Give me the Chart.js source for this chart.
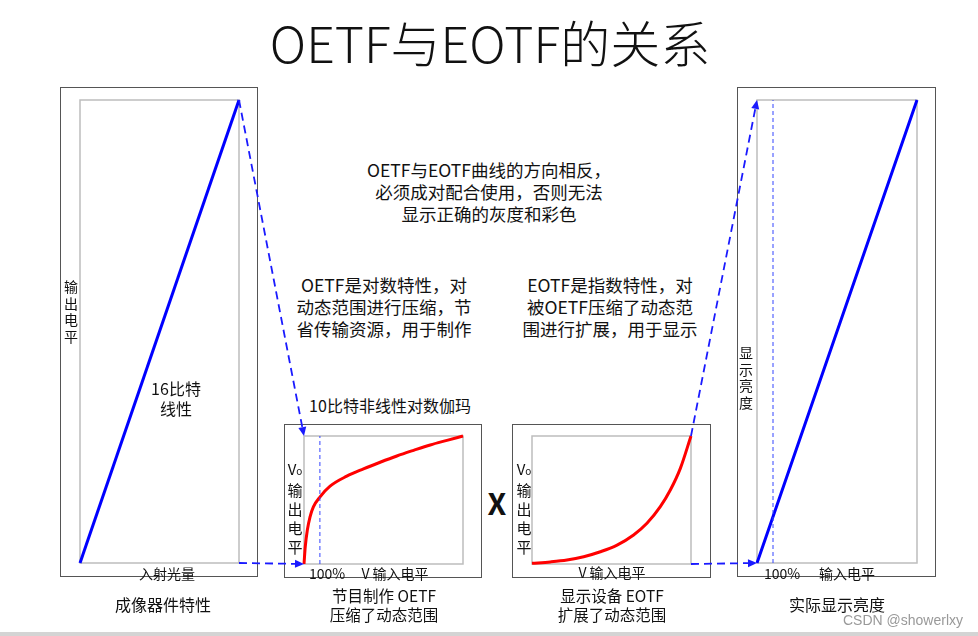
<!DOCTYPE html>
<html>
<head>
<meta charset="utf-8">
<script src="https://cdn.jsdelivr.net/npm/chart.js@4.4.1/dist/chart.umd.min.js"></script>
<style>
  body { margin: 0; background: #fff; }
  #page { position: relative; width: 978px; height: 636px; overflow: hidden;
          font-family: "Noto Sans CJK SC", "Noto Sans", sans-serif; color: #111; }
  .box { position: absolute; border: 1.5px solid #555; box-sizing: border-box; }
  .box canvas { position: absolute; left: -1.5px; top: -1.5px; }
  .t { position: absolute; transform: translate(-50%, -50%); white-space: nowrap; text-align: center; }
  .v { position: absolute; transform: translate(-50%, -50%); text-align: center; width: 1.2em; }
  #overlay { position: absolute; left: 0; top: 0; pointer-events: none; }
</style>
</head>
<body>
<div id="page">
  <div class="t" style="left:490px;top:41px;font-size:50px;font-weight:300;">OETF与EOTF的关系</div>

  <div class="t" style="left:489px;top:192px;font-size:17.5px;line-height:22px;">OETF与EOTF曲线的方向相反，<br>必须成对配合使用，否则无法<br>显示正确的灰度和彩色</div>
  <div class="t" style="left:384px;top:307px;font-size:17.5px;line-height:22px;">OETF是对数特性，对<br>动态范围进行压缩，节<br>省传输资源，用于制作</div>
  <div class="t" style="left:610px;top:307px;font-size:17.5px;line-height:22px;">EOTF是指数特性，对<br>被OETF压缩了动态范<br>围进行扩展，用于显示</div>

  <div class="box" id="b1" style="left:60px;top:87px;width:198px;height:490px;"><canvas id="c1"></canvas></div>
  <div class="box" id="b2" style="left:284px;top:424px;width:198px;height:154px;"><canvas id="c2"></canvas></div>
  <div class="box" id="b3" style="left:512px;top:424px;width:199px;height:154px;"><canvas id="c3"></canvas></div>
  <div class="box" id="b4" style="left:737px;top:87px;width:199px;height:490px;"><canvas id="c4"></canvas></div>

  <!-- panel 1 labels -->
  <div class="v" style="left:71px;top:311px;font-size:14px;line-height:16.5px;">输<br>出<br>电<br>平</div>
  <div class="t" style="left:176px;top:398px;font-size:16px;line-height:20px;">16比特<br>线性</div>
  <div class="t" style="left:167px;top:573px;font-size:14px;">入射光量</div>
  <div class="t" style="left:163px;top:604px;font-size:16px;">成像器件特性</div>

  <!-- panel 2 labels -->
  <div class="t" style="left:390px;top:405px;font-size:16px;">10比特非线性对数伽玛</div>
  <div class="v" style="left:295px;top:507px;font-size:15px;line-height:19px;">V<span style="font-size:10px">o</span><br>输<br>出<br>电<br>平</div>
  <div class="t" style="left:327px;top:573px;font-size:14px;">100%</div>
  <div class="t" style="left:395px;top:573px;font-size:14px;">V 输入电平</div>
  <div class="t" style="left:384px;top:605px;font-size:15.5px;line-height:19px;">节目制作 OETF<br>压缩了动态范围</div>

  <div class="t" style="left:497px;top:502px;font-size:30px;font-weight:bold;">X</div>

  <!-- panel 3 labels -->
  <div class="v" style="left:524px;top:507px;font-size:15px;line-height:19px;">V<span style="font-size:10px">o</span><br>输<br>出<br>电<br>平</div>
  <div class="t" style="left:612px;top:572px;font-size:14px;">V 输入电平</div>
  <div class="t" style="left:612px;top:605px;font-size:15.5px;line-height:19px;">显示设备 EOTF<br>扩展了动态范围</div>

  <!-- panel 4 labels -->
  <div class="v" style="left:746px;top:377px;font-size:14px;line-height:16.5px;">显<br>示<br>亮<br>度</div>
  <div class="t" style="left:782px;top:573px;font-size:14px;">100%</div>
  <div class="t" style="left:847px;top:573px;font-size:14px;">输入电平</div>
  <div class="t" style="left:837px;top:604px;font-size:16px;">实际显示亮度</div>
  <div class="t" style="left:903px;top:620px;font-size:14px;color:#999;font-family:'Liberation Sans',sans-serif;">CSDN @showerlxy</div>

  <div style="position:absolute;left:0;top:632px;width:978px;height:4px;background:#d4d4d4;"></div>

  <canvas id="overlay" width="978" height="636"></canvas>
</div>

<script>
// linear transfer (panels 1 and 4)
var linearX = [0, 1];
var linearY = [0, 1];

// OETF: logarithmic curve
var oetfX = [0, 0.008, 0.021, 0.038, 0.059, 0.101, 0.164, 0.269, 0.374, 0.479, 0.584, 0.689, 0.794, 0.899, 1];
var oetfY = [0, 0.135, 0.265, 0.369, 0.447, 0.525, 0.608, 0.686, 0.743, 0.795, 0.844, 0.888, 0.930, 0.966, 1];

// EOTF: exponential curve
var eotfX = [0, 0.115, 0.22, 0.325, 0.43, 0.535, 0.639, 0.723, 0.807, 0.870, 0.933, 1];
var eotfY = [0.005, 0.016, 0.031, 0.057, 0.096, 0.148, 0.227, 0.318, 0.448, 0.578, 0.747, 1];

// "100%" marker position on the input axis
var kneeX = [0.1];

function pts(xs, ys) {
    return xs.map(function(x, i) { return { x: x, y: ys[i] }; });
}

// grey inner frame = chart area
var framePlugin = {
    id: 'frame',
    beforeDatasetsDraw: function(chart) {
        var a = chart.chartArea, ctx = chart.ctx;
        ctx.save();
        ctx.strokeStyle = '#bdbdbd';
        ctx.lineWidth = 1.5;
        ctx.strokeRect(a.left, a.top, a.right - a.left, a.bottom - a.top);
        ctx.restore();
    }
};

function makeChart(id, w, h, padding, curve, color, withKnee) {
    var cv = document.getElementById(id);
    cv.width = w; cv.height = h;
    var datasets = [{
        data: curve,
        showLine: true,
        borderColor: color,
        borderWidth: 3,
        pointRadius: 0,
        cubicInterpolationMode: 'monotone',
        clip: false
    }];
    if (withKnee) {
        datasets.unshift({
            data: pts([kneeX[0], kneeX[0]], [0, 1]),
            showLine: true,
            borderColor: '#3344ff',
            borderWidth: 1,
            borderDash: [4, 3],
            pointRadius: 0
        });
    }
    return new Chart(cv, {
        type: 'scatter',
        data: { datasets: datasets },
        options: {
            responsive: false,
            animation: false,
            layout: { padding: padding },
            plugins: { legend: { display: false }, tooltip: { enabled: false } },
            scales: {
                x: { type: 'linear', min: 0, max: 1, display: false },
                y: { type: 'linear', min: 0, max: 1, display: false }
            }
        },
        plugins: [framePlugin]
    });
}

var ch1 = makeChart('c1', 198, 490, { left: 20, top: 13, right: 19, bottom: 14 }, pts(linearX, linearY), '#0000ff', false);
var ch2 = makeChart('c2', 198, 154, { left: 20, top: 12, right: 19, bottom: 14 }, pts(oetfX, oetfY), '#ff0000', true);
var ch3 = makeChart('c3', 199, 154, { left: 20, top: 12, right: 20, bottom: 14 }, pts(eotfX, eotfY), '#ff0000', false);
var ch4 = makeChart('c4', 199, 490, { left: 20, top: 13, right: 19, bottom: 14 }, pts(linearX, linearY), '#0000ff', true);

// page coordinates of a data value in a chart
function at(chart, boxId, vx, vy) {
    var b = document.getElementById(boxId);
    return [b.offsetLeft + chart.scales.x.getPixelForValue(vx),
            b.offsetTop + chart.scales.y.getPixelForValue(vy)];
}

function dashedArrow(ctx, p, q) {
    var ang = Math.atan2(q[1] - p[1], q[0] - p[0]);
    var hl = 9, hw = 4;
    var ex = q[0] - Math.cos(ang) * hl, ey = q[1] - Math.sin(ang) * hl;
    ctx.save();
    ctx.strokeStyle = '#1a1aff';
    ctx.fillStyle = '#1a1aff';
    ctx.lineWidth = 1.8;
    ctx.setLineDash([8, 5]);
    ctx.beginPath();
    ctx.moveTo(p[0], p[1]);
    ctx.lineTo(ex, ey);
    ctx.stroke();
    ctx.setLineDash([]);
    ctx.beginPath();
    ctx.moveTo(q[0], q[1]);
    ctx.lineTo(ex - Math.sin(ang) * hw, ey + Math.cos(ang) * hw);
    ctx.lineTo(ex + Math.sin(ang) * hw, ey - Math.cos(ang) * hw);
    ctx.closePath();
    ctx.fill();
    ctx.restore();
}

var oc = document.getElementById('overlay').getContext('2d');
dashedArrow(oc, at(ch1, 'b1', 1, 1), at(ch2, 'b2', 0, 1));
dashedArrow(oc, at(ch1, 'b1', 1, 0), at(ch2, 'b2', 0, 0));
dashedArrow(oc, at(ch3, 'b3', 1, 1), at(ch4, 'b4', 0, 1));
dashedArrow(oc, at(ch3, 'b3', 1, 0), at(ch4, 'b4', 0, 0));
</script>
</body>
</html>
